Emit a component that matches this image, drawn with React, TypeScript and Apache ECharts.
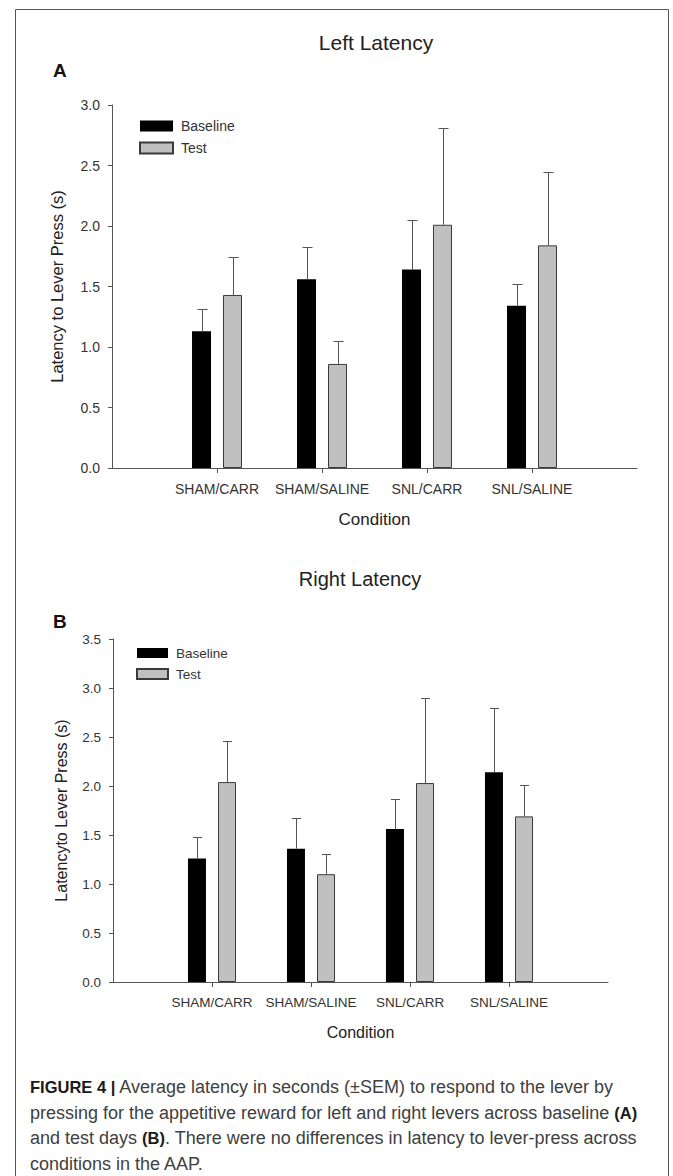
import React, { useEffect, useRef } from "react";
import * as echarts from "echarts";

const FONT = "'Liberation Sans', Arial, sans-serif";

const categories = ["SHAM/CARR", "SHAM/SALINE", "SNL/CARR", "SNL/SALINE"];
const categoryPositions = [1, 2, 3, 4];
const seriesNames = ["Baseline", "Test"];

// Panel A – Left latency (mean, SEM)
const leftBaseline = [1.13, 1.56, 1.64, 1.34];
const leftBaselineSem = [0.18, 0.27, 0.41, 0.18];
const leftTest = [1.43, 0.86, 2.01, 1.84];
const leftTestSem = [0.31, 0.19, 0.8, 0.61];

// Panel B – Right latency (mean, SEM)
const rightBaseline = [1.26, 1.36, 1.56, 2.14];
const rightBaselineSem = [0.22, 0.31, 0.31, 0.66];
const rightTest = [2.04, 1.1, 2.03, 1.69];
const rightTestSem = [0.42, 0.21, 0.87, 0.32];

const leftYMax = 3.0;
const rightYMax = 3.5;
const yInterval = 0.5;

const titles = ["Left Latency", "Right Latency"];
const panelLetters = ["A", "B"];
const yAxisNames = ["Latency to Lever Press (s)", "Latencyto Lever Press (s)"];
const xAxisName = "Condition";

const captionLines = [
  "{b|FIGURE 4 |} Average latency in seconds (±SEM) to respond to the lever by",
  "pressing for the appetitive reward for left and right levers across baseline {b|(A)}",
  "and test days {b|(B)}. There were no differences in latency to lever-press across",
  "conditions in the AAP.",
];

const AXIS_COLOR = "#555";
const TEXT_COLOR = "#333";

function makeErrSeries(
  axisIndex: number,
  means: number[],
  sems: number[],
  offset: number,
  capHalf: number,
  name: string
) {
  return {
    type: "custom",
    name,
    xAxisIndex: axisIndex,
    yAxisIndex: axisIndex,
    silent: true,
    z: 5,
    encode: { x: 0, y: 1 },
    data: means.map((m, i) => [categoryPositions[i], m, sems[i]]),
    renderItem: (_params: any, api: any) => {
      const x = api.value(0);
      const y = api.value(1);
      const e = api.value(2);
      const p0 = api.coord([x, y]);
      const p1 = api.coord([x, y + e]);
      const cx = Math.round(p0[0] + offset) + 0.5;
      const ty = Math.round(p1[1]) + 0.5;
      return {
        type: "group",
        children: [
          {
            type: "line",
            shape: { x1: cx, y1: p0[1], x2: cx, y2: ty },
            style: { stroke: "#555", lineWidth: 1 },
          },
          {
            type: "line",
            shape: { x1: cx - capHalf, y1: ty, x2: cx + capHalf, y2: ty },
            style: { stroke: "#555", lineWidth: 1 },
          },
        ],
      };
    },
  };
}

function xAxisCfg(gridIndex: number, labelSize: number, nameSize: number, nameGap: number, margin: number) {
  return {
    type: "value",
    gridIndex,
    min: 0,
    max: 5,
    interval: 1,
    axisLine: { show: true, onZero: false, lineStyle: { color: AXIS_COLOR, width: 1 } },
    axisTick: {
      show: true,
      customValues: categoryPositions,
      length: 5,
      lineStyle: { color: AXIS_COLOR },
    },
    axisLabel: {
      customValues: categoryPositions,
      formatter: (v: number) => {
        const idx = categoryPositions.indexOf(Math.round(v));
        return idx >= 0 ? categories[idx] : "";
      },
      margin,
      fontSize: labelSize,
      color: TEXT_COLOR,
      fontFamily: FONT,
    },
    splitLine: { show: false },
    name: xAxisName,
    nameLocation: "middle",
    nameGap,
    nameTextStyle: { fontSize: nameSize, color: "#222", fontFamily: FONT },
  };
}

function yAxisCfg(gridIndex: number, max: number, name: string, labelSize: number, nameSize: number, nameGap: number) {
  return {
    type: "value",
    gridIndex,
    min: 0,
    max,
    interval: yInterval,
    axisLine: { show: true, onZero: false, lineStyle: { color: AXIS_COLOR, width: 1 } },
    axisTick: { show: true, length: 4, lineStyle: { color: AXIS_COLOR } },
    axisLabel: {
      formatter: (v: number) => v.toFixed(1),
      margin: 12,
      fontSize: labelSize,
      color: TEXT_COLOR,
      fontFamily: FONT,
    },
    splitLine: { show: false },
    name,
    nameLocation: "middle",
    nameRotate: 90,
    nameGap,
    nameTextStyle: { fontSize: nameSize, color: "#222", fontFamily: FONT },
  };
}

export default function App() {
  const ref = useRef<HTMLDivElement>(null);

  useEffect(() => {
    if (!ref.current) return;
    const chart = echarts.init(ref.current, null, { renderer: "svg" });

    const baseStyle = { color: "#000" };
    const testStyle = { color: "#c0c0c0", borderColor: "#3a3a3a", borderWidth: 1 };

    const option: any = {
      animation: false,
      backgroundColor: "#fff",
      textStyle: { fontFamily: FONT },
      grid: [
        { left: 112, top: 105, width: 525, height: 363 },
        { left: 113, top: 639, width: 495, height: 343 },
      ],
      xAxis: [xAxisCfg(0, 14, 17, 43, 14), xAxisCfg(1, 13.5, 16, 42, 13)],
      yAxis: [
        yAxisCfg(0, leftYMax, yAxisNames[0], 14, 16.5, 47),
        yAxisCfg(1, rightYMax, yAxisNames[1], 13.5, 16, 44),
      ],
      legend: [
        {
          data: seriesNames,
          orient: "vertical",
          left: 139,
          top: 119,
          padding: 0,
          icon: "rect",
          itemWidth: 33,
          itemHeight: 11,
          itemGap: 8,
          selectedMode: false,
          textStyle: { fontSize: 14, color: TEXT_COLOR, fontFamily: FONT, lineHeight: 11, padding: [0, 0, 0, 3] },
        },
        {
          data: seriesNames,
          orient: "vertical",
          left: 136,
          top: 646,
          padding: 0,
          icon: "rect",
          itemWidth: 31,
          itemHeight: 10,
          itemGap: 7,
          selectedMode: false,
          textStyle: { fontSize: 13.5, color: TEXT_COLOR, fontFamily: FONT, lineHeight: 10, padding: [0, 0, 0, 3] },
        },
      ],
      series: [
        {
          type: "bar",
          name: seriesNames[0],
          xAxisIndex: 0,
          yAxisIndex: 0,
          barWidth: 19,
          barGap: "63%",
          itemStyle: baseStyle,
          data: leftBaseline.map((v, i) => [categoryPositions[i], v]),
        },
        {
          type: "bar",
          name: seriesNames[1],
          xAxisIndex: 0,
          yAxisIndex: 0,
          barWidth: 19,
          barGap: "63%",
          itemStyle: testStyle,
          data: leftTest.map((v, i) => [categoryPositions[i], v]),
        },
        {
          type: "bar",
          name: seriesNames[0],
          xAxisIndex: 1,
          yAxisIndex: 1,
          barWidth: 18,
          barGap: "67%",
          itemStyle: baseStyle,
          data: rightBaseline.map((v, i) => [categoryPositions[i], v]),
        },
        {
          type: "bar",
          name: seriesNames[1],
          xAxisIndex: 1,
          yAxisIndex: 1,
          barWidth: 18,
          barGap: "67%",
          itemStyle: testStyle,
          data: rightTest.map((v, i) => [categoryPositions[i], v]),
        },
        makeErrSeries(0, leftBaseline, leftBaselineSem, -15.5, 5, "errA1"),
        makeErrSeries(0, leftTest, leftTestSem, 15.5, 5, "errA2"),
        makeErrSeries(1, rightBaseline, rightBaselineSem, -15, 4.5, "errB1"),
        makeErrSeries(1, rightTest, rightTestSem, 15, 4.5, "errB2"),
      ],
      graphic: [
        {
          type: "rect",
          silent: true,
          shape: { x: 15.5, y: 9.5, width: 653, height: 1200 },
          style: { fill: "none", stroke: "#555", lineWidth: 1 },
        },
        {
          type: "text",
          x: 376,
          y: 42,
          style: { text: titles[0], align: "center", verticalAlign: "middle", fontSize: 21, fontFamily: FONT, fill: "#222" },
        },
        {
          type: "text",
          x: 360,
          y: 579,
          style: { text: titles[1], align: "center", verticalAlign: "middle", fontSize: 20, fontFamily: FONT, fill: "#222" },
        },
        {
          type: "text",
          x: 53,
          y: 70,
          style: { text: panelLetters[0], align: "left", verticalAlign: "middle", fontSize: 19, fontWeight: "bold", fontFamily: FONT, fill: "#111" },
        },
        {
          type: "text",
          x: 53,
          y: 621,
          style: { text: panelLetters[1], align: "left", verticalAlign: "middle", fontSize: 19, fontWeight: "bold", fontFamily: FONT, fill: "#111" },
        },
        ...captionLines.map((line, i) => ({
          type: "text",
          x: 30,
          y: 1087 + i * 25.7,
          style: {
            text: line,
            align: "left",
            verticalAlign: "middle",
            fontSize: 18,
            fontFamily: FONT,
            fill: "#404040",
            rich: {
              b: { fontSize: 16.5, fontWeight: "bold", fontFamily: FONT, fill: "#1a1a1a" },
            },
          },
        })),
      ],
    };

    chart.setOption(option);
    return () => chart.dispose();
  }, []);

  return (
    <div
      ref={ref}
      style={{ position: "absolute", left: 0, top: 0, width: 673, height: 1176, background: "#fff" }}
    />
  );
}
